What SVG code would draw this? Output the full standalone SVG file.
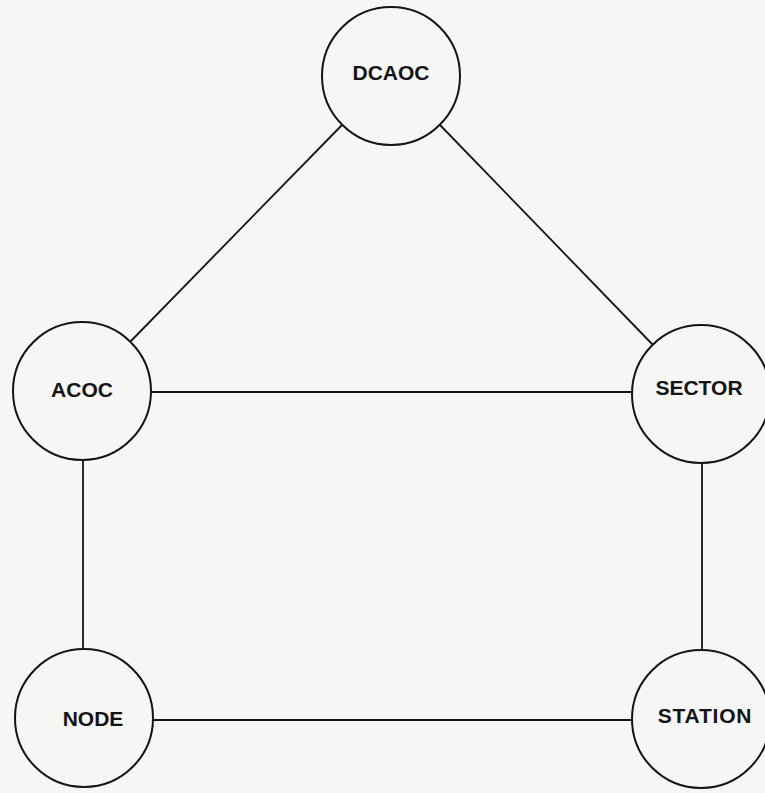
<svg xmlns="http://www.w3.org/2000/svg" width="765" height="793" viewBox="0 0 765 793">
  <style>
    .bg { fill: #f6f6f4; }
    .node circle { fill: none; stroke: #141414; stroke-width: 2; }
    .node text { font-family: "Liberation Sans", Arial, sans-serif; font-weight: bold; font-size: 21px; fill: #141414; text-anchor: middle; }
    .edges line { stroke: #141414; stroke-width: 1.8; }
  </style>
  <rect class="bg" x="0" y="0" width="765" height="793"/>

  <!-- connectors -->
  <g id="edges" class="edges">
    <line x1="342" y1="125" x2="130" y2="342"/>
    <line x1="440" y1="125" x2="653" y2="345"/>
    <line x1="151" y1="392" x2="632" y2="392"/>
    <line x1="83" y1="460" x2="83" y2="649"/>
    <line x1="702" y1="463" x2="702" y2="650"/>
    <line x1="153" y1="720" x2="632" y2="720"/>
  </g>

  <!-- nodes -->
  <g id="dcaoc" class="node">
    <circle cx="391" cy="76" r="69"/>
    <text x="391" y="80">DCAOC</text>
  </g>
  <g id="acoc" class="node">
    <circle cx="82" cy="391" r="69"/>
    <text x="82" y="397">ACOC</text>
  </g>
  <g id="sector" class="node">
    <circle cx="701" cy="394" r="69"/>
    <text x="699" y="395">SECTOR</text>
  </g>
  <g id="node" class="node">
    <circle cx="84" cy="718" r="69"/>
    <text x="93" y="726">NODE</text>
  </g>
  <g id="station" class="node">
    <circle cx="701" cy="719" r="69"/>
    <text x="705" y="723" letter-spacing="0.8">STATION</text>
  </g>
</svg>
